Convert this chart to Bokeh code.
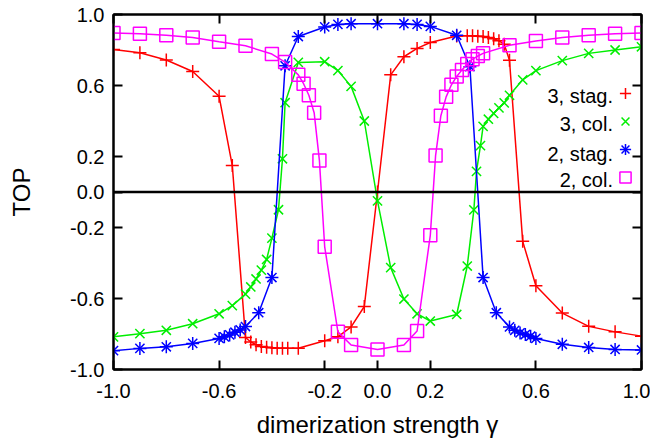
from bokeh.plotting import figure
from bokeh.models import (Range1d, FixedTicker, PrintfTickFormatter, LinearAxis, Span,
                          Legend, LegendItem, Label)
from bokeh.embed import file_html
from bokeh.resources import INLINE

FONT = "Liberation Sans"

ticks = [-1.0, -0.6, -0.2, 0.0, 0.2, 0.6, 1.0]

# 3, stag.
g_r = [-1.0, -0.9, -0.8, -0.7, -0.6, -0.55, -0.5, -0.48, -0.46, -0.44, -0.42, -0.40, -0.38, -0.36, -0.34,
       -0.3, -0.2, -0.15, -0.1, -0.05, 0.0, 0.05, 0.1, 0.15, 0.2, 0.3, 0.34, 0.36, 0.38, 0.40, 0.42, 0.44,
       0.46, 0.48, 0.5, 0.55, 0.6, 0.7, 0.8, 0.9, 1.0]
v_r = [0.803, 0.784, 0.744, 0.679, 0.539, 0.149, -0.82, -0.845, -0.86, -0.87, -0.875, -0.878, -0.88, -0.88, -0.88,
       -0.88, -0.838, -0.816, -0.76, -0.645, 0.0, 0.66, 0.762, 0.809, 0.842, 0.879, 0.88, 0.88, 0.878, 0.876, 0.87, 0.863,
       0.852, 0.833, 0.742, -0.278, -0.528, -0.682, -0.757, -0.788, -0.812]

# 3, col.
g_g = [-1.0, -0.9, -0.8, -0.7, -0.6, -0.55, -0.5, -0.48, -0.46, -0.44, -0.42, -0.40, -0.375, -0.36, -0.35,
       -0.3, -0.2, -0.15, -0.1, -0.05, 0.0, 0.05, 0.1, 0.15, 0.2, 0.3, 0.34, 0.365, 0.375, 0.39, 0.40, 0.42,
       0.44, 0.46, 0.48, 0.5, 0.55, 0.6, 0.7, 0.8, 0.9, 1.0]
v_g = [-0.816, -0.798, -0.779, -0.742, -0.686, -0.640, -0.575, -0.535, -0.49, -0.44, -0.38, -0.26, -0.10, 0.187, 0.503,
       0.73, 0.734, 0.684, 0.595, 0.40, -0.05, -0.426, -0.603, -0.686, -0.727, -0.69, -0.417, -0.101, 0.116, 0.261, 0.37, 0.41,
       0.443, 0.474, 0.502, 0.545, 0.632, 0.684, 0.740, 0.781, 0.80, 0.818]

# 2, stag.
g_b = [-1.0, -0.9, -0.8, -0.7, -0.6, -0.58, -0.56, -0.54, -0.52, -0.5, -0.45, -0.4, -0.35, -0.3, -0.2, -0.15,
       -0.1, 0.0, 0.1, 0.15, 0.2, 0.3, 0.35, 0.4, 0.45, 0.5, 0.52, 0.54, 0.56, 0.58, 0.6, 0.7, 0.8, 0.9, 1.0]
v_b = [-0.894, -0.881, -0.872, -0.853, -0.825, -0.816, -0.805, -0.79, -0.777, -0.758, -0.68, -0.482, 0.711, 0.876, 0.93, 0.944,
       0.948, 0.948, 0.948, 0.944, 0.933, 0.883, 0.706, -0.482, -0.68, -0.76, -0.779, -0.794, -0.803, -0.812, -0.825, -0.858,
       -0.876, -0.887, -0.89]

# 2, col.
g_m = [-1.0, -0.9, -0.8, -0.7, -0.6, -0.5, -0.4, -0.35, -0.3, -0.28, -0.26, -0.24, -0.22, -0.2, -0.15, -0.1, 0.0,
       0.1, 0.15, 0.2, 0.22, 0.24, 0.26, 0.28, 0.3, 0.32, 0.34, 0.36, 0.38, 0.4, 0.5, 0.6, 0.7, 0.8, 0.9, 1.0]
v_m = [0.896, 0.892, 0.883, 0.870, 0.846, 0.824, 0.777, 0.732, 0.660, 0.610, 0.545, 0.447, 0.177, -0.309, -0.788, -0.862,
       -0.887, -0.862, -0.783, -0.244, 0.205, 0.43, 0.536, 0.604, 0.651, 0.688, 0.721, 0.748, 0.766, 0.781, 0.827, 0.851,
       0.870, 0.883, 0.892, 0.896]

labels = ["3, stag.", "3, col.", "2, stag.", "2, col."]
colors = ["#ff0000", "#00ee00", "#0000ff", "#ff00ff"]

p = figure(width=650, height=440, output_backend="svg", toolbar_location=None,
           x_range=Range1d(-1, 1), y_range=Range1d(-1, 1),
           min_border_left=113, min_border_right=9, min_border_top=14, min_border_bottom=67)
p.xgrid.visible = False
p.ygrid.visible = False
p.outline_line_color = "black"
p.outline_line_width = 2
p.background_fill_color = "white"
p.border_fill_color = "white"


def style_axis(ax, show_labels):
    ax.ticker = FixedTicker(ticks=ticks)
    ax.axis_line_color = "black"
    ax.axis_line_width = 2
    ax.major_tick_line_color = "black"
    ax.major_tick_line_width = 2
    ax.major_tick_in = 9
    ax.major_tick_out = 0
    ax.minor_tick_line_color = None
    if show_labels:
        ax.formatter = PrintfTickFormatter(format="%.1f")
        ax.major_label_text_font = FONT
        ax.major_label_text_font_size = "20px"
        ax.major_label_text_color = "black"
        ax.major_label_standoff = 9
        ax.axis_label_text_font = FONT
        ax.axis_label_text_font_size = "24px"
        ax.axis_label_text_font_style = "normal"
        ax.axis_label_text_color = "black"
    else:
        ax.major_label_overrides = {t: "" for t in ticks}
        ax.major_label_standoff = 0


xa = p.xaxis[0]
ya = p.yaxis[0]
style_axis(xa, True)
style_axis(ya, True)
xa.major_label_standoff = 14
xa.axis_label = "dimerization strength γ"
xa.axis_label_standoff = 10
ya.axis_label = "TOP"
ya.axis_label_standoff = 32

for side in ["right", "above"]:
    ax = LinearAxis()
    style_axis(ax, False)
    p.add_layout(ax, side)

p.add_layout(Span(location=0, dimension="width", line_color="black", line_width=2.5))

series = [(g_r, v_r, ["cross"]), (g_g, v_g, ["x"]), (g_b, v_b, ["cross", "x"]), (g_m, v_m, ["square"])]
items = []
for (gx, vy, markers), col, lab in zip(series, colors, labels):
    p.line(gx, vy, line_color=col, line_width=1.5)
    rs = []
    for mk in markers:
        r = p.scatter(gx, vy, marker=mk, size=13, line_color=col, fill_color=None, line_width=1.5)
        rs.append(r)
    items.append(LegendItem(label=" ", renderers=rs))

legend = Legend(items=items, location=(497, 178), orientation="vertical",
                glyph_width=30, glyph_height=28, label_width=0, label_height=20,
                label_standoff=0, padding=0, margin=0, spacing=0,
                label_text_font_size="1px",
                background_fill_alpha=0, border_line_alpha=0)
p.add_layout(legend)

ly = [0.539, 0.382, 0.214, 0.066]
for lab, yy in zip(labels, ly):
    p.add_layout(Label(x=0.892, y=yy, text=lab, text_align="right", text_baseline="middle",
                       text_font=FONT, text_font_size="20px", text_color="black"))

open("out.html", "w").write(file_html(p, INLINE))
